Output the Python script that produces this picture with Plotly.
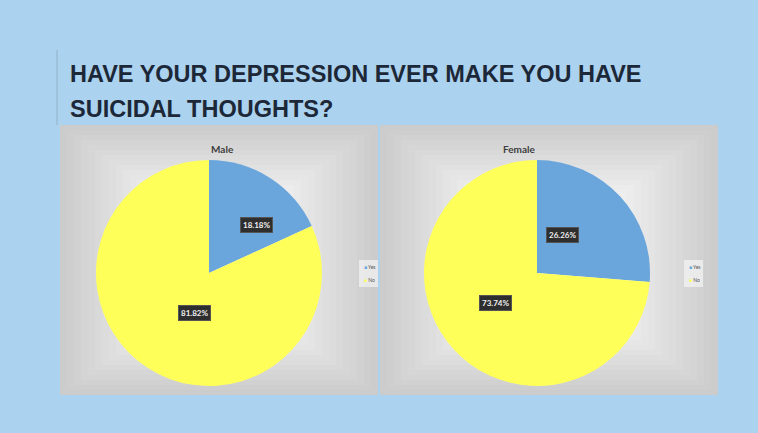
import math
import plotly.graph_objects as go

# ---- data ----
categories = ["Yes", "No"]
male_values = [18.18, 81.82]
female_values = [26.26, 73.74]
chart_titles = ["Male", "Female"]
title_lines = ["HAVE YOUR DEPRESSION EVER MAKE YOU HAVE", "SUICIDAL THOUGHTS?"]

W, H = 758, 433
colors = ["#6aa6dc", "#ffff5a"]


def px(x):
    return x / W


def py(y):
    return 1 - y / H


fig = go.Figure()

pies = [
    dict(values=male_values, name=chart_titles[0], cx=209, cy=273, r=113, lx=362),
    dict(values=female_values, name=chart_titles[1], cx=537, cy=273, r=113, lx=687),
]

for p in pies:
    fig.add_trace(go.Pie(
        labels=categories,
        values=p["values"],
        sort=False,
        direction="clockwise",
        rotation=0,
        textinfo="none",
        hoverinfo="label+percent",
        marker=dict(colors=colors, line=dict(width=0)),
        domain=dict(x=[px(p["cx"] - p["r"]), px(p["cx"] + p["r"])],
                    y=[py(p["cy"] + p["r"]), py(p["cy"] - p["r"])]),
        showlegend=False,
    ))

shapes = []
panels = [(60, 125, 378, 395), (380, 125, 718, 395)]
nsteps = 16
for (x0, y0, x1, y1) in panels:
    for i in range(nsteps):
        t = i / (nsteps - 1)
        g = int(0xcc + (0xf4 - 0xcc) * t)
        c = "#%02x%02x%02x" % (g, g, g)
        ix = i * 7
        iy = i * 5
        shapes.append(dict(type="rect", xref="paper", yref="paper", layer="below",
                           x0=px(x0 + ix), x1=px(x1 - ix), y0=py(y1 - iy), y1=py(y0 + iy),
                           fillcolor=c, line=dict(width=0)))
shapes.append(dict(type="line", xref="paper", yref="paper", x0=px(57), x1=px(57),
                   y0=py(125), y1=py(50), line=dict(color="#9bbdd6", width=1.5)))
for p in pies:
    shapes.append(dict(type="rect", xref="paper", yref="paper", layer="below",
                       x0=px(p["lx"] - 3), x1=px(p["lx"] + 16), y0=py(287), y1=py(260),
                       fillcolor="rgba(250,250,250,0.6)", line=dict(width=0)))

title_font = dict(family="Liberation Sans, Arial, sans-serif", size=23.5, color="#1c2738", weight="bold")
annotations = []
annotations.append(dict(text=title_lines[0], x=px(68), y=py(74), xref="paper", yref="paper",
                        xanchor="left", yanchor="middle", showarrow=False, font=title_font))
annotations.append(dict(text=title_lines[1], x=px(68), y=py(109), xref="paper", yref="paper",
                        xanchor="left", yanchor="middle", showarrow=False, font=title_font))

for p in pies:
    annotations.append(dict(text="<b>%s</b>" % p["name"], x=px(p["cx"]), y=py(141),
                            xref="paper", yref="paper", showarrow=False,
                            font=dict(family="Lato, sans-serif", size=10, color="#404040")))
    total = sum(p["values"])
    cum = 0
    for v in p["values"]:
        mid = (cum + v / 2) / total * 2 * math.pi
        cum += v
        rr = 0.5 * p["r"]
        lx = p["cx"] + rr * math.sin(mid)
        ly = p["cy"] - rr * math.cos(mid)
        annotations.append(dict(text="<b>%.2f%%</b>" % (v / total * 100), x=px(lx), y=py(ly),
                                xref="paper", yref="paper", showarrow=False,
                                bgcolor="#2e2e2e", bordercolor="#555555", borderwidth=1, borderpad=2,
                                font=dict(family="Lato, sans-serif", size=8, color="#f0f0f0")))
    for k, (cat, col) in enumerate(zip(categories, colors)):
        annotations.append(dict(text="<span style='color:%s'>■</span> %s" % (col, cat),
                                x=px(p["lx"]), y=py(267 + k * 13), xref="paper", yref="paper",
                                xanchor="left", showarrow=False,
                                font=dict(family="Lato, sans-serif", size=5, color="#555555")))

fig.update_layout(
    width=W, height=H,
    margin=dict(l=0, r=0, t=0, b=0),
    paper_bgcolor="#abd2ee",
    plot_bgcolor="#abd2ee",
    shapes=shapes,
    annotations=annotations,
    showlegend=False,
)

fig.write_html("out.html")
